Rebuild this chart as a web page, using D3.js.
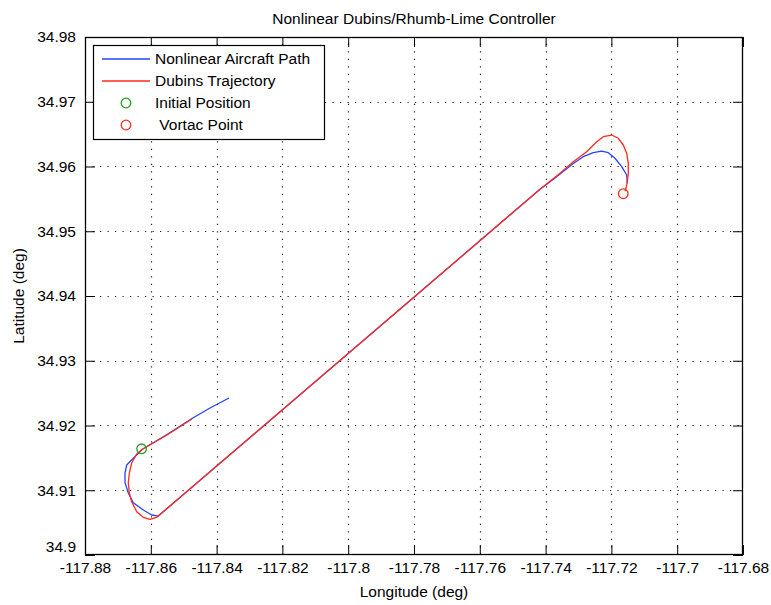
<!DOCTYPE html>
<html>
<head>
<meta charset="utf-8">
<script src="https://cdn.jsdelivr.net/npm/d3@7"></script>
<style>
  html, body { margin: 0; padding: 0; background: #fff; }
  svg { display: block; }
  text { font-family: "Liberation Sans", Arial, Helvetica, sans-serif; fill: #000; }
</style>
</head>
<body>
<svg id="chart" width="771" height="605"></svg>
<script>
// ---- data ----
const titleText = "Nonlinear Dubins/Rhumb-Lime Controller";
const xLabelText = "Longitude (deg)";
const yLabelText = "Latitude (deg)";
const xDomain = [-117.88, -117.68];
const yDomain = [34.9, 34.98];
const xTicks = [-117.88, -117.86, -117.84, -117.82, -117.8, -117.78, -117.76, -117.74, -117.72, -117.7, -117.68];
const yTicks = [34.9, 34.91, 34.92, 34.93, 34.94, 34.95, 34.96, 34.97, 34.98];

const aircraftLon = [-117.83623, -117.84201, -117.84748, -117.85508, -117.86267, -117.86328, -117.86532, -117.86733, -117.86784, -117.86784, -117.86684, -117.86532, -117.86228, -117.85973, -117.85772, -117.74170, -117.73714, -117.73158, -117.72854, -117.72550, -117.72295, -117.72094, -117.71891, -117.71687, -117.71535, -117.71517];
const aircraftLat = [34.92425, 34.92270, 34.92108, 34.91861, 34.91629, 34.91595, 34.91493, 34.91390, 34.91266, 34.91117, 34.90958, 34.90808, 34.90695, 34.90618, 34.90602, 34.95648, 34.95822, 34.96046, 34.96151, 34.96213, 34.96239, 34.96213, 34.96127, 34.95997, 34.95869, 34.95741];

const dubinsLon = [-117.84748, -117.85508, -117.86246, -117.86429, -117.86581, -117.86653, -117.86684, -117.86653, -117.86581, -117.86429, -117.86228, -117.86024, -117.85821, -117.74170, -117.73562, -117.73158, -117.72751, -117.72447, -117.72246, -117.71991, -117.71790, -117.71638, -117.71535, -117.71486, -117.71486, -117.71517, -117.71556, -117.71587];
const dubinsLat = [34.92100, 34.91853, 34.91637, 34.91560, 34.91421, 34.91266, 34.91112, 34.90958, 34.90823, 34.90669, 34.90582, 34.90551, 34.90582, 34.95648, 34.95895, 34.96074, 34.96229, 34.96383, 34.96460, 34.96486, 34.96436, 34.96332, 34.96204, 34.96049, 34.95895, 34.95765, 34.95663, 34.95622];

const initialPos = [-117.8628, 34.9164];
const vortacPos = [-117.7164, 34.9558];

const legendLabels = ["Nonlinear Aircraft Path", "Dubins Trajectory", "Initial Position", " Vortac Point"];
const legendKinds = ["line", "line", "circle", "circle"];
const legendColors = ["#2244ff", "#ff2a1a", "#22a022", "#ff2a1a"];

// ---- layout ----
const W = 771, H = 605;
const L = 85, R = 743, T = 37, B = 555;
const FS = 15.5;
const svg = d3.select("#chart");

const x = d3.scaleLinear().domain(xDomain).range([L, R]);
const y = d3.scaleLinear().domain(yDomain).range([B, T]);
const fmt = d => String(+d.toFixed(2));

// background
svg.append("rect").attr("x", 0).attr("y", 0).attr("width", W).attr("height", H).attr("fill", "#fff");
svg.append("rect").attr("x", L).attr("y", T).attr("width", R - L).attr("height", B - T).attr("fill", "#fff");

// grid
const grid = svg.append("g").attr("stroke", "#222").attr("stroke-width", 1.2).attr("stroke-dasharray", "1.2,6.3");
grid.selectAll("line.gx").data(xTicks.slice(1, -1)).join("line")
  .attr("x1", d => Math.round(x(d)) + 0.5).attr("x2", d => Math.round(x(d)) + 0.5)
  .attr("y1", B).attr("y2", T);
grid.selectAll("line.gy").data(yTicks.slice(1, -1)).join("line")
  .attr("y1", d => Math.round(y(d)) + 0.5).attr("y2", d => Math.round(y(d)) + 0.5)
  .attr("x1", L).attr("x2", R);

// data lines
const line = d3.line().x(d => x(d[0])).y(d => y(d[1]));
const aircraft = aircraftLon.map((v, i) => [v, aircraftLat[i]]);
const dubins = dubinsLon.map((v, i) => [v, dubinsLat[i]]);
svg.append("path").datum(aircraft).attr("d", line).attr("fill", "none")
  .attr("stroke", legendColors[0]).attr("stroke-width", 1.3).attr("stroke-linejoin", "round");
svg.append("path").datum(dubins).attr("d", line).attr("fill", "none")
  .attr("stroke", legendColors[1]).attr("stroke-width", 1.3).attr("stroke-linejoin", "round");

svg.append("circle").attr("cx", x(initialPos[0])).attr("cy", y(initialPos[1])).attr("r", 4.8)
  .attr("fill", "none").attr("stroke", legendColors[2]).attr("stroke-width", 1.3);
svg.append("circle").attr("cx", x(vortacPos[0])).attr("cy", y(vortacPos[1])).attr("r", 4.8)
  .attr("fill", "none").attr("stroke", legendColors[3]).attr("stroke-width", 1.3);

// axes
const TK = 10;
const styleAxis = g => {
  g.select(".domain").remove();
  g.selectAll(".tick line").attr("stroke", "#000").attr("stroke-width", 1);
  g.selectAll(".tick text").attr("font-size", FS).attr("font-family", "Liberation Sans, Arial, sans-serif").attr("fill", "#000");
};
svg.append("g").attr("transform", `translate(0,${B})`)
  .call(d3.axisBottom(x).tickValues(xTicks).tickFormat(fmt).tickSizeInner(-TK).tickSizeOuter(0).tickPadding(7))
  .call(styleAxis);
svg.append("g").attr("transform", `translate(0,${T})`)
  .call(d3.axisTop(x).tickValues(xTicks).tickFormat("").tickSizeInner(-TK).tickSizeOuter(0))
  .call(styleAxis);
const yAxisG = svg.append("g").attr("transform", `translate(${L},0)`)
  .call(d3.axisLeft(y).tickValues(yTicks).tickFormat(fmt).tickSizeInner(-TK).tickSizeOuter(0).tickPadding(9))
  .call(styleAxis);
// lowest y label sits just above the axis corner, as in the reference
yAxisG.selectAll(".tick text").filter(d => d === yDomain[0]).attr("dy", "-0.2em");
svg.append("g").attr("transform", `translate(${R},0)`)
  .call(d3.axisRight(y).tickValues(yTicks).tickFormat("").tickSizeInner(-TK).tickSizeOuter(0))
  .call(styleAxis);

// box
svg.append("rect").attr("x", L + 0.5).attr("y", T + 0.5).attr("width", R - L - 1).attr("height", B - T - 1)
  .attr("fill", "none").attr("stroke", "#000").attr("stroke-width", 1.3);

// legend
const lg = svg.append("g");
lg.append("rect").attr("x", 93.5).attr("y", 45.5).attr("width", 231).attr("height", 94)
  .attr("fill", "#fff").attr("stroke", "#000").attr("stroke-width", 1.2);
const rowY = [59, 81, 103, 125];
legendLabels.forEach((lab, i) => {
  if (legendKinds[i] === "line") {
    lg.append("line").attr("x1", 102).attr("x2", 150).attr("y1", rowY[i]).attr("y2", rowY[i])
      .attr("stroke", legendColors[i]).attr("stroke-width", 1.5);
  } else {
    lg.append("circle").attr("cx", 126).attr("cy", rowY[i]).attr("r", 4.8)
      .attr("fill", "none").attr("stroke", legendColors[i]).attr("stroke-width", 1.3);
  }
  lg.append("text").attr("x", 155).attr("y", rowY[i]).attr("dy", "0.35em")
    .attr("font-size", FS).attr("xml:space", "preserve").style("white-space", "pre").text(lab);
});

// title & labels
svg.append("text").attr("x", (L + R) / 2).attr("y", 24).attr("text-anchor", "middle")
  .attr("font-size", FS).text(titleText);
svg.append("text").attr("x", (L + R) / 2).attr("y", 597).attr("text-anchor", "middle")
  .attr("font-size", FS).text(xLabelText);
svg.append("text").attr("transform", `translate(24,${(T + B) / 2}) rotate(-90)`).attr("text-anchor", "middle")
  .attr("font-size", FS).text(yLabelText);
</script>
</body>
</html>
